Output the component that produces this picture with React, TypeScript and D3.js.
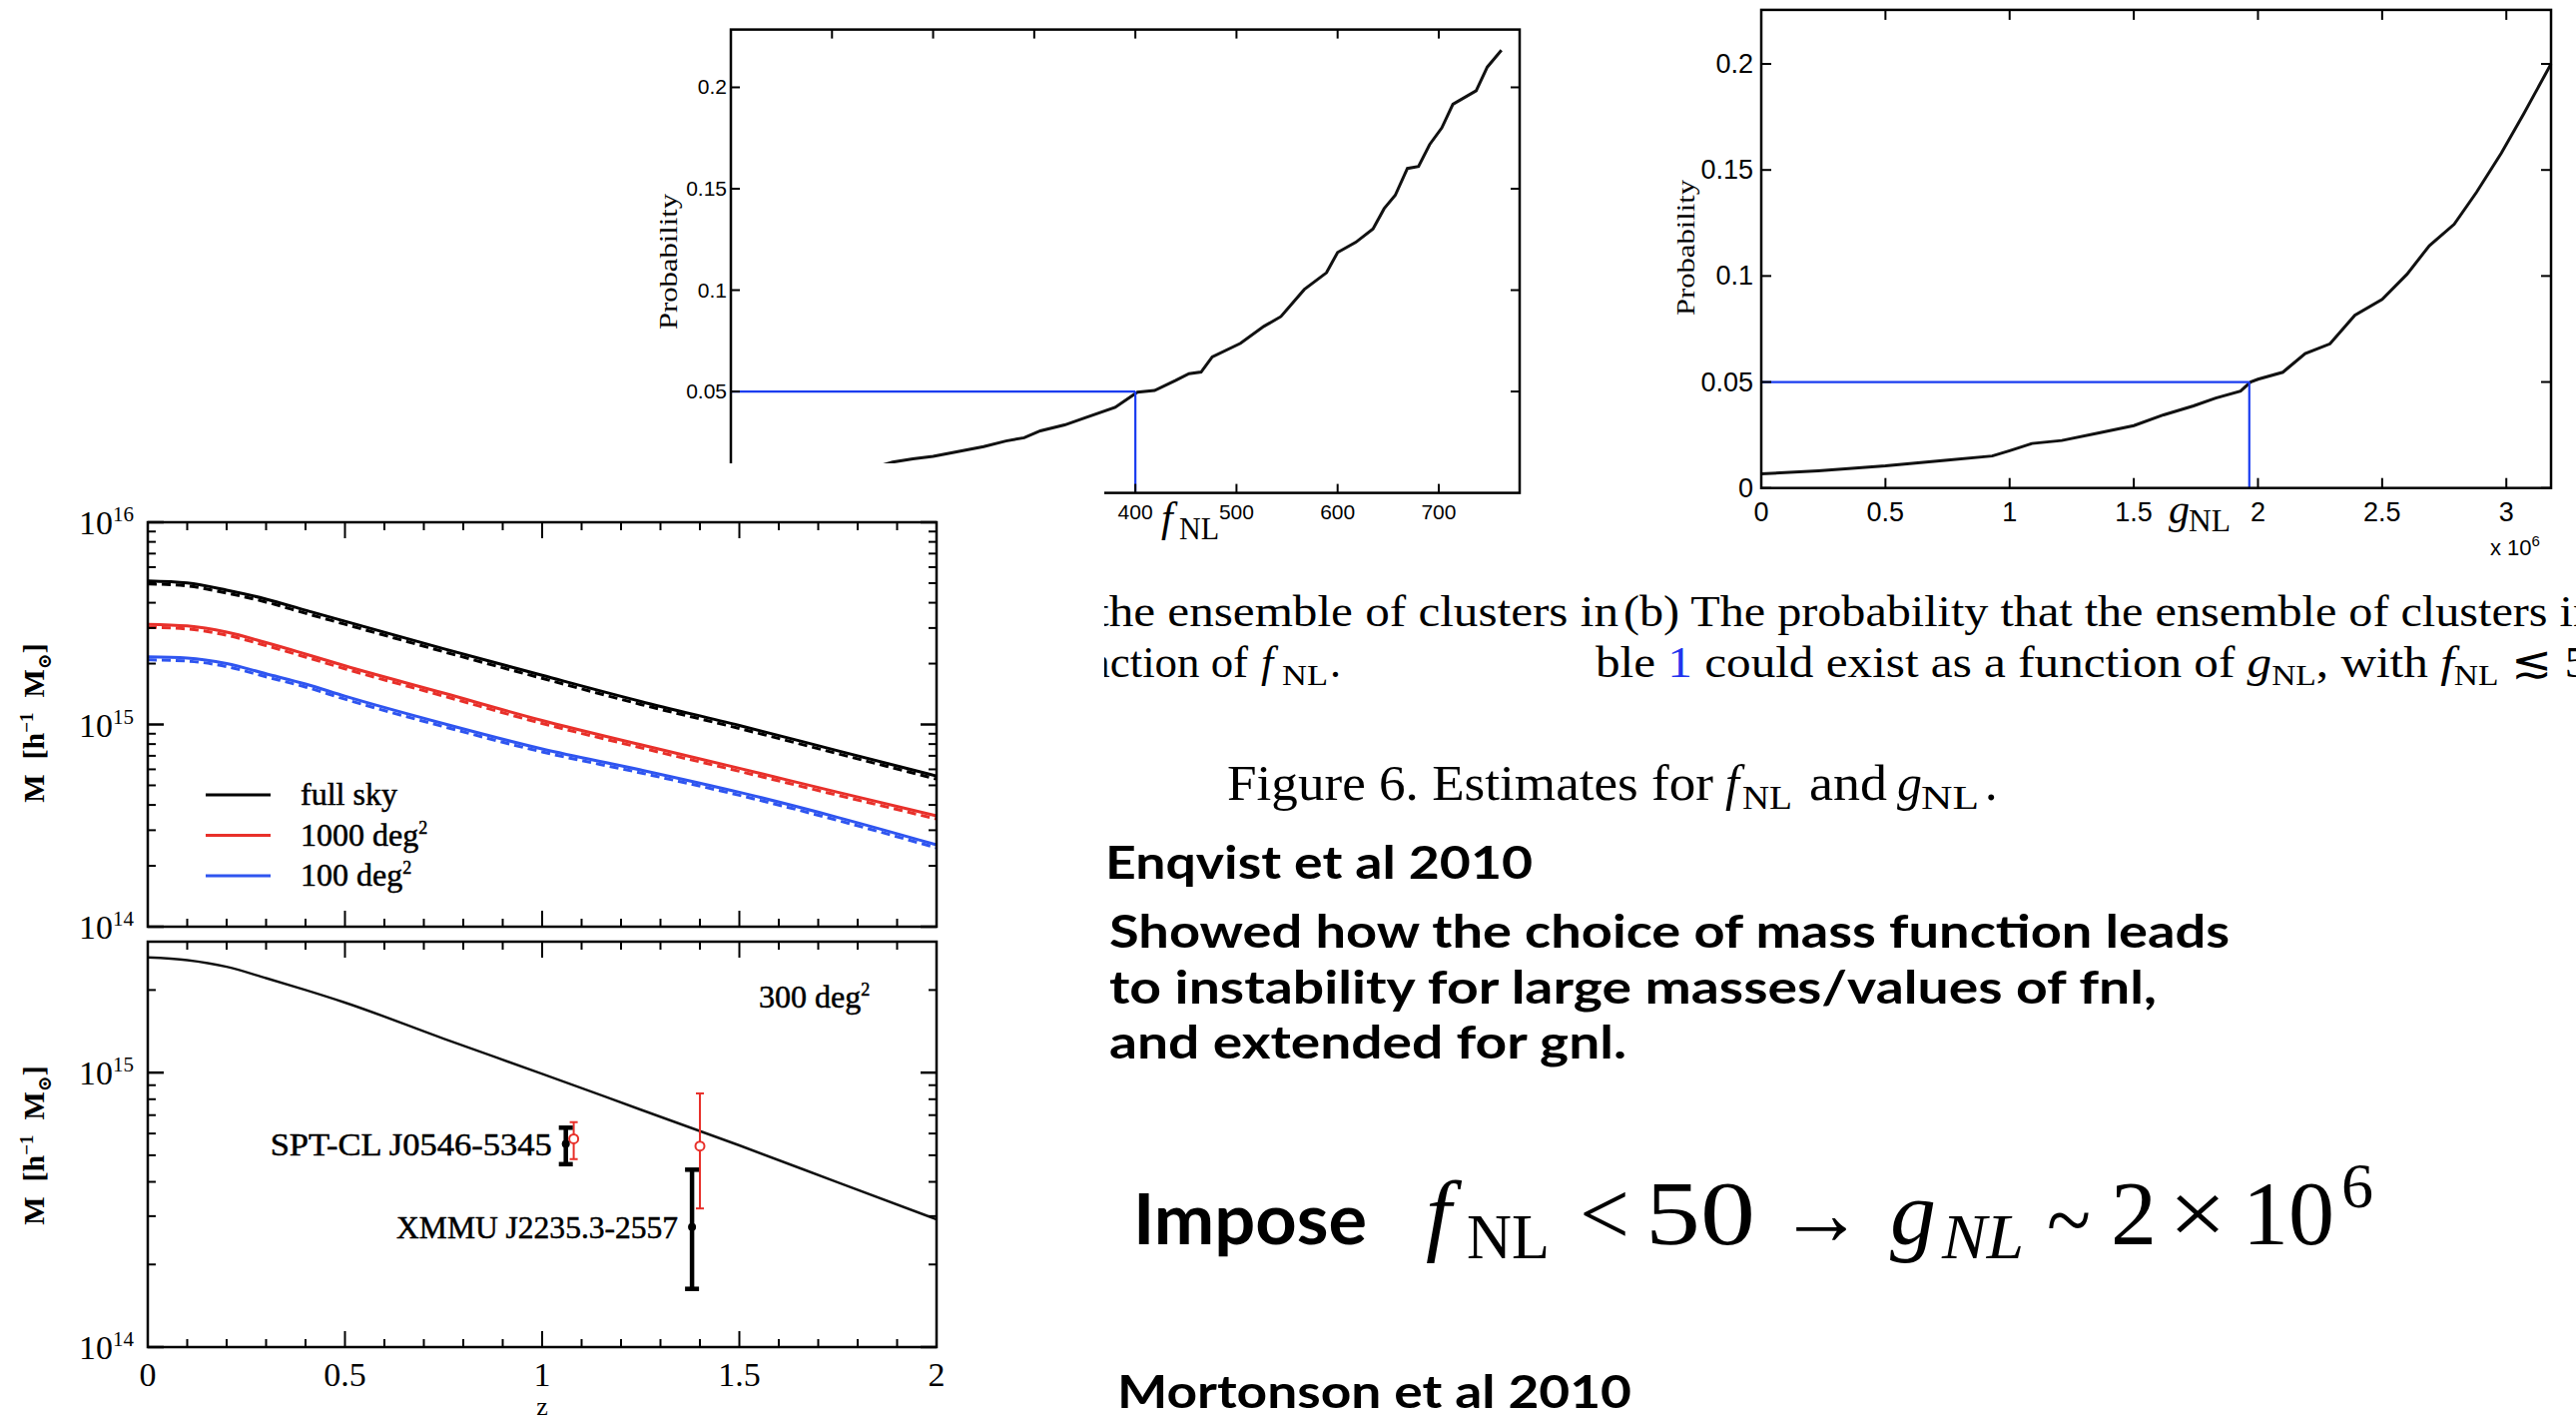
import React from 'react';
import * as d3 from 'd3';

// ---------- data ----------
const fnlValues = [150, 160, 180, 200, 227, 250, 272, 290, 306, 330, 351, 380, 402, 419, 440, 453, 465, 476, 504, 527, 544, 567, 589, 600, 618, 635, 646, 657, 669, 680, 691, 703, 714, 737, 748, 762];
const fnlProb = [0.0138, 0.0152, 0.0168, 0.018, 0.0206, 0.0228, 0.0256, 0.0272, 0.0306, 0.0335, 0.0372, 0.0422, 0.0497, 0.0505, 0.0555, 0.0588, 0.0596, 0.0671, 0.0738, 0.0821, 0.087, 0.1003, 0.1086, 0.1186, 0.1236, 0.1302, 0.1402, 0.1468, 0.16, 0.161, 0.1718, 0.18, 0.1917, 0.1983, 0.21, 0.2183];
const fnlCut = [400, 0.05];
const fnlXTicks = [100, 200, 300, 400, 500, 600, 700];
const fnlXLabels = [400, 500, 600, 700];
const fnlYTicks = [0.05, 0.1, 0.15, 0.2];

const gnlValues = [0, 0.23, 0.5, 0.74, 0.93, 1.0, 1.09, 1.21, 1.36, 1.5, 1.62, 1.74, 1.83, 1.93, 1.97, 2.0, 2.1, 2.19, 2.29, 2.39, 2.5, 2.6, 2.69, 2.79, 2.88, 2.98, 3.07, 3.18];
const gnlProb = [0.0067, 0.0081, 0.0104, 0.0131, 0.0151, 0.0176, 0.021, 0.0224, 0.026, 0.0294, 0.0345, 0.0387, 0.0424, 0.0457, 0.05, 0.0513, 0.0546, 0.0634, 0.068, 0.0815, 0.089, 0.1008, 0.1143, 0.1244, 0.1395, 0.158, 0.1765, 0.2];
const gnlCut = [1.965, 0.05];
const gnlXTicks = [0, 0.5, 1, 1.5, 2, 2.5, 3];
const gnlYTicks = [0, 0.05, 0.1, 0.15, 0.2];

const zValues = [0, 0.1, 0.2, 0.3, 0.4, 0.5, 0.75, 1.0, 1.25, 1.5, 1.75, 2.0];
const massFullSky = [5.13e15, 5.01e15, 4.62e15, 4.17e15, 3.67e15, 3.24e15, 2.37e15, 1.75e15, 1.3e15, 9.89e14, 7.41e14, 5.56e14];
const mass1000 = [3.13e15, 3.07e15, 2.86e15, 2.54e15, 2.23e15, 1.95e15, 1.43e15, 1.047e15, 7.94e14, 6.07e14, 4.62e14, 3.53e14];
const mass100 = [2.16e15, 2.13e15, 2.0e15, 1.78e15, 1.585e15, 1.38e15, 1.01e15, 7.57e14, 5.96e14, 4.62e14, 3.47e14, 2.54e14];
const surveyNames = ['full sky', '1000 deg', '100 deg'];
const surveyColors = ['#000000', '#e8302a', '#2f55f0'];

const z300 = [0, 0.1, 0.2, 0.3, 0.4, 0.5, 0.75, 1.0, 1.25, 1.5, 1.75, 2.0];
const mass300 = [2.63e15, 2.57e15, 2.43e15, 2.21e15, 2.0e15, 1.8e15, 1.33e15, 9.9e14, 7.33e14, 5.43e14, 3.98e14, 2.92e14];

const clusterNames = ['SPT-CL J0546-5345', 'XMMU J2235.3-2557'];
const blackZ = [1.06, 1.38];
const blackM = [5.5e14, 2.74e14];
const blackLo = [4.64e14, 1.63e14];
const blackHi = [6.3e14, 4.43e14];
const redZ = [1.08, 1.4];
const redM = [5.74e14, 5.4e14];
const redLo = [4.84e14, 3.2e14];
const redHi = [6.6e14, 8.4e14];

const zTicksMajor = [0, 0.5, 1, 1.5, 2];
const zTicksMinor = d3.range(0, 2.0001, 0.1);

// ---------- fonts ----------
const SERIF = '"Liberation Serif", "DejaVu Serif", serif';
const NARROW = '"Liberation Sans Narrow", "Liberation Sans", Arial, sans-serif';
const BOLD = 'Lato, "Open Sans", sans-serif';

// ---------- layout ----------
const fnlBox = { l: 732, r: 1522, t: 29.6, b: 493.6 };
const gnlBox = { l: 1764, r: 2555, t: 9.9, b: 488.7 };
const mTop = { l: 148, r: 938, t: 523, b: 928 };
const mBot = { l: 148, r: 938, t: 943, b: 1349 };

function LogPanel({ box, domain, children }: any) {
  const x = d3.scaleLinear().domain([0, 2]).range([box.l, box.r]);
  const y = d3.scaleLog().domain(domain).range([box.b, box.t]);
  const lo = Math.log10(domain[0]);
  const hi = Math.log10(domain[1]);
  const minor: number[] = [];
  for (let d = Math.floor(lo); d < Math.ceil(hi); d++) {
    for (let k = 2; k <= 9; k++) {
      const v = k * Math.pow(10, d);
      if (v > domain[0] && v < domain[1]) minor.push(v);
    }
  }
  const major: number[] = [];
  for (let d = Math.ceil(lo); d <= Math.floor(hi); d++) major.push(Math.pow(10, d));
  return (
    <g>
      {children(x, y)}
      <rect x={box.l} y={box.t} width={box.r - box.l} height={box.b - box.t} fill="none" stroke="#000" strokeWidth={2.5} />
      {major.map((v) => (
        <g key={'M' + v}>
          <line x1={box.l} x2={box.l + 16} y1={y(v)} y2={y(v)} stroke="#000" strokeWidth={2.5} />
          <line x1={box.r} x2={box.r - 16} y1={y(v)} y2={y(v)} stroke="#000" strokeWidth={2.5} />
        </g>
      ))}
      {minor.map((v) => (
        <g key={'m' + v}>
          <line x1={box.l} x2={box.l + 8} y1={y(v)} y2={y(v)} stroke="#000" strokeWidth={2} />
          <line x1={box.r} x2={box.r - 8} y1={y(v)} y2={y(v)} stroke="#000" strokeWidth={2} />
        </g>
      ))}
      {zTicksMinor.map((v, i) => {
        const len = i % 5 === 0 ? 16 : 8;
        return (
          <g key={'x' + i}>
            <line x1={x(v)} x2={x(v)} y1={box.b} y2={box.b - len} stroke="#000" strokeWidth={2} />
            <line x1={x(v)} x2={x(v)} y1={box.t} y2={box.t + len} stroke="#000" strokeWidth={2} />
          </g>
        );
      })}
    </g>
  );
}

function YTitle({ cx, cy }: any) {
  return (
    <text transform={`translate(${cx},${cy}) rotate(-90)`} textAnchor="middle" fontFamily={SERIF} fontSize={30} fontWeight="bold" xmlSpace="preserve">
      {'M  [h'}
      <tspan dy={-11} fontSize={19}>{'−1'}</tspan>
      <tspan dy={11}>{'  M'}</tspan>
      <tspan dy={7} fontSize={19}>{'⊙'}</tspan>
      <tspan dy={-7}>{']'}</tspan>
    </text>
  );
}

const plotText = { fontFamily: SERIF, stroke: '#000', strokeWidth: 0.5 };

export default function App() {
  const fx = d3.scaleLinear().domain([0, 780]).range([fnlBox.l, fnlBox.r]);
  const fy = d3.scaleLinear().domain([0, 0.2285]).range([fnlBox.b, fnlBox.t]);
  const fLine = d3.line<number>().x((_, i) => fx(fnlValues[i])).y((d) => fy(d));

  const gx = d3.scaleLinear().domain([0, 3.18]).range([gnlBox.l, gnlBox.r]);
  const gy = d3.scaleLinear().domain([0, 0.2255]).range([gnlBox.b, gnlBox.t]);
  const gLine = d3.line<number>().x((_, i) => gx(gnlValues[i])).y((d) => gy(d));

  const massSeries = [massFullSky, mass1000, mass100];

  return (
    <svg width={2580} height={1421} style={{ position: 'absolute', left: 0, top: 0, background: '#fff' }}>
      <rect x={0} y={0} width={2580} height={1421} fill="#fff" />

      {/* ---------- fNL chart ---------- */}
      <g>
        <path d={fLine(fnlProb) || ''} fill="none" stroke="#111" strokeWidth={3} />
        <line x1={fx(0)} x2={fx(fnlCut[0])} y1={fy(fnlCut[1])} y2={fy(fnlCut[1])} stroke="#1a3cf0" strokeWidth={2.2} />
        <line x1={fx(fnlCut[0])} x2={fx(fnlCut[0])} y1={fy(fnlCut[1])} y2={fy(0)} stroke="#1a3cf0" strokeWidth={2.2} />
        <rect x={fnlBox.l} y={fnlBox.t} width={fnlBox.r - fnlBox.l} height={fnlBox.b - fnlBox.t} fill="none" stroke="#000" strokeWidth={2.5} />
        {fnlXTicks.map((v) => (
          <g key={v}>
            <line x1={fx(v)} x2={fx(v)} y1={fnlBox.t} y2={fnlBox.t + 9} stroke="#000" strokeWidth={2} />
            <line x1={fx(v)} x2={fx(v)} y1={fnlBox.b} y2={fnlBox.b - 9} stroke="#000" strokeWidth={2} />
          </g>
        ))}
        {fnlYTicks.map((v) => (
          <g key={v}>
            <line x1={fnlBox.l} x2={fnlBox.l + 9} y1={fy(v)} y2={fy(v)} stroke="#000" strokeWidth={2} />
            <line x1={fnlBox.r} x2={fnlBox.r - 9} y1={fy(v)} y2={fy(v)} stroke="#000" strokeWidth={2} />
            <text x={fnlBox.l - 4} y={fy(v) + 7} textAnchor="end" fontFamily={NARROW} fontSize={21}>{String(v)}</text>
          </g>
        ))}
        {fnlXLabels.map((v) => (
          <text key={v} x={fx(v)} y={520} textAnchor="middle" fontFamily={NARROW} fontSize={21}>{String(v)}</text>
        ))}
        <text transform={`translate(678,262) rotate(-90)`} textAnchor="middle" fontFamily={SERIF} fontSize={25} textLength={136} lengthAdjust="spacingAndGlyphs">Probability</text>
        <text x={1163} y={532} fontFamily={SERIF} fontStyle="italic" fontSize={42}>f</text>
        <text x={1181} y={540} fontFamily={SERIF} fontSize={32} textLength={40} lengthAdjust="spacingAndGlyphs">NL</text>
      </g>

      {/* ---------- caption (left part gets covered) ---------- */}
      <g fontFamily={SERIF} fontSize={44}>
        <text x={1097} y={627} textLength={524} lengthAdjust="spacingAndGlyphs">the ensemble of clusters in</text>
        <text x={1626} y={627} textLength={975} lengthAdjust="spacingAndGlyphs">(b) The probability that the ensemble of clusters in</text>
        <text x={1052} y={678} textLength={198} lengthAdjust="spacingAndGlyphs">function of</text>
        <text x={1263} y={678} fontStyle="italic">f</text>
        <text x={1284} y={686} fontSize={30} textLength={46} lengthAdjust="spacingAndGlyphs">NL</text>
        <text x={1332} y={678}>.</text>
        <text x={1598} y={678} textLength={995} lengthAdjust="spacingAndGlyphs" xmlSpace="preserve">
          {'ble '}
          <tspan fill="#2233ee">1</tspan>
          {' could exist as a function of '}
          <tspan fontStyle="italic">g</tspan>
          <tspan fontSize={30} dy={8}>NL</tspan>
          <tspan dy={-8}>{', with '}</tspan>
          <tspan fontStyle="italic">f</tspan>
          <tspan fontSize={30} dy={8}>NL</tspan>
          <tspan dy={-8}>{' ≲ 5'}</tspan>
        </text>
      </g>
      <g fontFamily={SERIF} fontSize={50}>
        <text x={1229} y={801} textLength={487} lengthAdjust="spacingAndGlyphs">Figure 6. Estimates for</text>
        <text x={1728} y={801} fontStyle="italic">f</text>
        <text x={1745} y={810} fontSize={34} textLength={50} lengthAdjust="spacingAndGlyphs">NL</text>
        <text x={1812} y={801} textLength={78} lengthAdjust="spacingAndGlyphs">and</text>
        <text x={1900} y={801} fontStyle="italic">g</text>
        <text x={1924} y={810} fontSize={34} textLength={58} lengthAdjust="spacingAndGlyphs">NL</text>
        <text x={1988} y={801}>.</text>
      </g>

      {/* ---------- gNL chart ---------- */}
      <g>
        <path d={gLine(gnlProb) || ''} fill="none" stroke="#111" strokeWidth={3} />
        <line x1={gx(0)} x2={gx(gnlCut[0])} y1={gy(gnlCut[1])} y2={gy(gnlCut[1])} stroke="#1a3cf0" strokeWidth={2.2} />
        <line x1={gx(gnlCut[0])} x2={gx(gnlCut[0])} y1={gy(gnlCut[1])} y2={gy(0)} stroke="#1a3cf0" strokeWidth={2.2} />
        <rect x={gnlBox.l} y={gnlBox.t} width={gnlBox.r - gnlBox.l} height={gnlBox.b - gnlBox.t} fill="none" stroke="#000" strokeWidth={2.5} />
        {gnlXTicks.map((v) => (
          <g key={v}>
            <line x1={gx(v)} x2={gx(v)} y1={gnlBox.t} y2={gnlBox.t + 10} stroke="#000" strokeWidth={2} />
            <line x1={gx(v)} x2={gx(v)} y1={gnlBox.b} y2={gnlBox.b - 10} stroke="#000" strokeWidth={2} />
            <text x={gx(v)} y={522} textAnchor="middle" fontFamily={NARROW} fontSize={27}>{String(v)}</text>
          </g>
        ))}
        {gnlYTicks.map((v) => (
          <g key={v}>
            <line x1={gnlBox.l} x2={gnlBox.l + 10} y1={gy(v)} y2={gy(v)} stroke="#000" strokeWidth={2} />
            <line x1={gnlBox.r} x2={gnlBox.r - 10} y1={gy(v)} y2={gy(v)} stroke="#000" strokeWidth={2} />
            <text x={gnlBox.l - 8} y={gy(v) + 9} textAnchor="end" fontFamily={NARROW} fontSize={27}>{String(v)}</text>
          </g>
        ))}
        <text transform={`translate(1697,248) rotate(-90)`} textAnchor="middle" fontFamily={SERIF} fontSize={25} textLength={136} lengthAdjust="spacingAndGlyphs">Probability</text>
        <text x={2172} y={524} fontFamily={SERIF} fontStyle="italic" fontSize={42}>g</text>
        <text x={2192} y={532} fontFamily={SERIF} fontSize={32} textLength={42} lengthAdjust="spacingAndGlyphs">NL</text>
        <text x={2494} y={556} fontFamily={NARROW} fontSize={22}>x 10<tspan dy={-9} fontSize={15}>6</tspan></text>
      </g>

      {/* ---------- occluding figure background ---------- */}
      <rect x={0} y={464} width={1106} height={957} fill="#fff" />

      {/* ---------- mass panels ---------- */}
      <LogPanel box={mTop} domain={[1e14, 1e16]}>
        {(x: any, y: any) => {
          const line = d3.line<number>().x((_, i) => x(zValues[i])).y((d) => y(d)).curve(d3.curveMonotoneX);
          return (
            <g>
              {massSeries.map((s, k) => (
                <g key={k}>
                  <path d={line(s) || ''} fill="none" stroke={surveyColors[k]} strokeWidth={3} />
                  <path d={line(s) || ''} transform="translate(0,3)" fill="none" stroke={surveyColors[k]} strokeWidth={3} strokeDasharray="9 5" />
                </g>
              ))}
              {surveyNames.map((n, k) => (
                <g key={n}>
                  <line x1={206} x2={271} y1={796 + k * 40.5} y2={796 + k * 40.5} stroke={surveyColors[k]} strokeWidth={3} />
                  <text x={301} y={806 + k * 40.5} {...plotText} fontSize={32}>
                    {n}
                    {k > 0 ? <tspan dy={-12} fontSize={18}>2</tspan> : null}
                  </text>
                </g>
              ))}
            </g>
          );
        }}
      </LogPanel>
      <LogPanel box={mBot} domain={[1e14, 3e15]}>
        {(x: any, y: any) => {
          const line = d3.line<number>().x((_, i) => x(z300[i])).y((d) => y(d)).curve(d3.curveMonotoneX);
          return (
            <g>
              <path d={line(mass300) || ''} fill="none" stroke="#111" strokeWidth={2.5} />
              {clusterNames.map((n, i) => (
                <g key={n}>
                  <line x1={x(redZ[i])} x2={x(redZ[i])} y1={y(redLo[i])} y2={y(redHi[i])} stroke="#e8302a" strokeWidth={2} />
                  <line x1={x(redZ[i]) - 4} x2={x(redZ[i]) + 4} y1={y(redLo[i])} y2={y(redLo[i])} stroke="#e8302a" strokeWidth={2} />
                  <line x1={x(redZ[i]) - 4} x2={x(redZ[i]) + 4} y1={y(redHi[i])} y2={y(redHi[i])} stroke="#e8302a" strokeWidth={2} />
                  <circle cx={x(redZ[i])} cy={y(redM[i])} r={4.5} fill="#fff" stroke="#e8302a" strokeWidth={2} />
                  <line x1={x(blackZ[i])} x2={x(blackZ[i])} y1={y(blackLo[i])} y2={y(blackHi[i])} stroke="#000" strokeWidth={4.5} />
                  <line x1={x(blackZ[i]) - 7} x2={x(blackZ[i]) + 7} y1={y(blackLo[i])} y2={y(blackLo[i])} stroke="#000" strokeWidth={4.5} />
                  <line x1={x(blackZ[i]) - 7} x2={x(blackZ[i]) + 7} y1={y(blackHi[i])} y2={y(blackHi[i])} stroke="#000" strokeWidth={4.5} />
                  <circle cx={x(blackZ[i])} cy={y(blackM[i])} r={4} fill="#000" />
                  <text x={x(blackZ[i]) - 14} y={y(blackM[i]) + 11} textAnchor="end" {...plotText} fontSize={31} textLength={282} lengthAdjust="spacingAndGlyphs">{n}</text>
                </g>
              ))}
              <text x={760} y={1009} {...plotText} fontSize={32}>300 deg<tspan dy={-12} fontSize={18}>2</tspan></text>
            </g>
          );
        }}
      </LogPanel>

      {/* mass axis labels */}
      <g fontFamily={SERIF} fontSize={34}>
        {[[1e16, 16], [1e15, 15], [1e14, 14]].map(([v, e]) => {
          const y = d3.scaleLog().domain([1e14, 1e16]).range([mTop.b, mTop.t]);
          return (
            <text key={'t' + e} x={134} y={y(v) + 12} textAnchor="end">10<tspan dy={-13} fontSize={21}>{String(e)}</tspan></text>
          );
        })}
        {[[1e15, 15], [1e14, 14]].map(([v, e]) => {
          const y = d3.scaleLog().domain([1e14, 3e15]).range([mBot.b, mBot.t]);
          return (
            <text key={'b' + e} x={134} y={y(v) + 12} textAnchor="end">10<tspan dy={-13} fontSize={21}>{String(e)}</tspan></text>
          );
        })}
        {zTicksMajor.map((v) => {
          const x = d3.scaleLinear().domain([0, 2]).range([mBot.l, mBot.r]);
          return <text key={v} x={x(v)} y={1388} textAnchor="middle">{String(v)}</text>;
        })}
        <text x={543} y={1417} textAnchor="middle" fontSize={26}>z</text>
      </g>
      <YTitle cx={44} cy={724} />
      <YTitle cx={44} cy={1147} />

      {/* ---------- slide text ---------- */}
      <g fontFamily={BOLD} fontWeight={700} fontSize={46}>
        <text x={1107} y={880} textLength={428} lengthAdjust="spacingAndGlyphs">Enqvist et al 2010</text>
        <text x={1111} y={949} textLength={1122} lengthAdjust="spacingAndGlyphs">Showed how the choice of mass function leads</text>
        <text x={1111} y={1005} textLength={1049} lengthAdjust="spacingAndGlyphs">to instability for large masses/values of fnl,</text>
        <text x={1111} y={1060} textLength={518} lengthAdjust="spacingAndGlyphs">and extended for gnl.</text>
        <text x={1135} y={1246} fontSize={70} textLength={234} lengthAdjust="spacingAndGlyphs">Impose</text>
        <text x={1119} y={1410} textLength={515} lengthAdjust="spacingAndGlyphs">Mortonson et al 2010</text>
      </g>
      <g fontFamily={SERIF} fontSize={92}>
        <text x={1428} y={1246} fontStyle="italic">f</text>
        <text x={1469} y={1260} fontSize={64} textLength={83} lengthAdjust="spacingAndGlyphs">NL</text>
        <text x={1582} y={1246} textLength={50} lengthAdjust="spacingAndGlyphs">&lt;</text>
        <text x={1648} y={1246} textLength={110} lengthAdjust="spacingAndGlyphs">50</text>
        <text x={1782} y={1246} textLength={84} lengthAdjust="spacingAndGlyphs">→</text>
        <text x={1893} y={1246} fontStyle="italic">g</text>
        <text x={1945} y={1260} fontSize={64} fontStyle="italic" textLength={82} lengthAdjust="spacingAndGlyphs">NL</text>
        <text x={2050} y={1252} textLength={44} lengthAdjust="spacingAndGlyphs">~</text>
        <text x={2114} y={1246}>2</text>
        <text x={2172} y={1246} textLength={58} lengthAdjust="spacingAndGlyphs">×</text>
        <text x={2246} y={1246} textLength={92} lengthAdjust="spacingAndGlyphs">10</text>
        <text x={2345} y={1209} fontSize={64}>6</text>
      </g>
    </svg>
  );
}
